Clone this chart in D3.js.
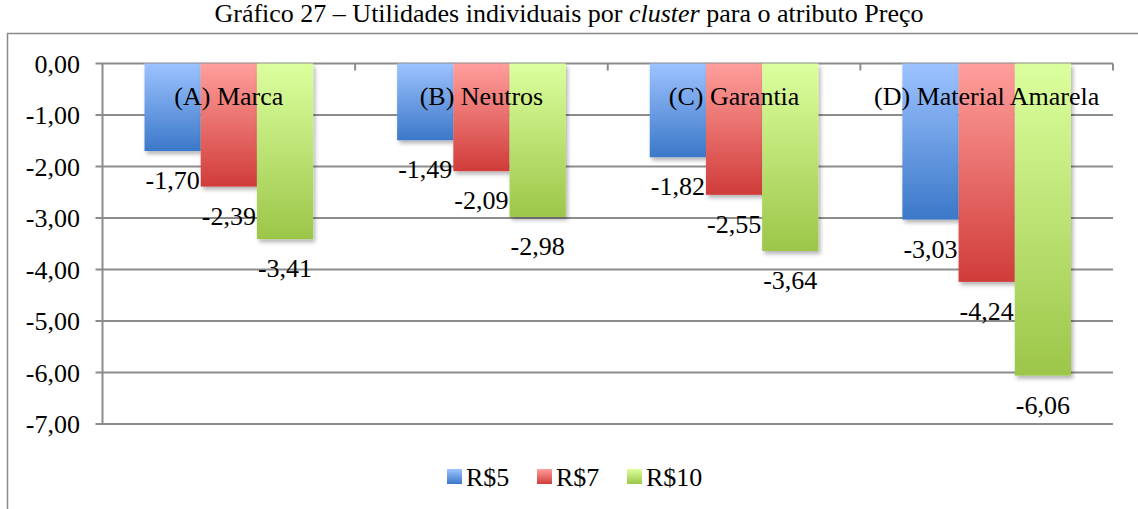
<!DOCTYPE html>
<html>
<head>
<meta charset="utf-8">
<script src="https://cdn.jsdelivr.net/npm/d3@7"></script>
<style>
  body { margin: 0; background: #fff; }
  text { font-family: "Liberation Serif", "Times New Roman", serif; fill: #000; }
</style>
</head>
<body>
<svg width="1138" height="509"></svg>
<script>
// Dados do gráfico
const clusters = ['(A) Marca', '(B) Neutros', '(C) Garantia', '(D) Material Amarela'];
const series = ['R$5', 'R$7', 'R$10'];
const valoresR5 = [-1.70, -1.49, -1.82, -3.03];
const valoresR7 = [-2.39, -2.09, -2.55, -4.24];
const valoresR10 = [-3.41, -2.98, -3.64, -6.06];
const yTicks = [0, -1, -2, -3, -4, -5, -6, -7];

const valores = [valoresR5, valoresR7, valoresR10];
const cores = [
  ['#9dc3ff', '#3b78c8'],
  ['#ff9f9c', '#d03c3a'],
  ['#dcff9e', '#9cc649']
];

const svg = d3.select('svg');
const plotLeft = 102.5, plotRight = 1113, plotTop = 63.5, plotBottom = 424;

const defs = svg.append('defs');
cores.forEach((c, i) => {
  const g = defs.append('linearGradient')
    .attr('id', 'grad' + i)
    .attr('x1', 0).attr('y1', 0).attr('x2', 0).attr('y2', 1);
  g.append('stop').attr('offset', '0%').attr('stop-color', c[0]);
  g.append('stop').attr('offset', '100%').attr('stop-color', c[1]);
});
const f = defs.append('filter').attr('id', 'sombra')
  .attr('x', '-10%').attr('y', '-10%').attr('width', '130%').attr('height', '130%');
f.append('feDropShadow').attr('dx', 2).attr('dy', 3).attr('stdDeviation', 2)
  .attr('flood-color', '#000').attr('flood-opacity', 0.3);

// Moldura
svg.append('path')
  .attr('d', 'M7.5,509 V33.5 H1138')
  .attr('fill', 'none').attr('stroke', '#8a8a8a').attr('stroke-width', 1.5);

// Título
const titulo = svg.append('text')
  .attr('x', 569).attr('y', 22)
  .attr('text-anchor', 'middle')
  .attr('font-size', 26);
titulo.append('tspan').text('Gráfico 27 – Utilidades individuais por ');
titulo.append('tspan').attr('font-style', 'italic').text('cluster');
titulo.append('tspan').text(' para o atributo Preço');

const y = d3.scaleLinear().domain([0, -7]).range([plotTop, plotBottom]);
const x0 = d3.scaleBand().domain(clusters).range([plotLeft, plotRight]);
const x1 = d3.scaleBand().domain(series).range([42, x0.bandwidth() - 42]);

// Grade
svg.append('g').selectAll('line').data(yTicks).join('line')
  .attr('x1', plotLeft - 7).attr('x2', plotRight)
  .attr('y1', d => y(d)).attr('y2', d => y(d))
  .attr('stroke', '#8c8c8c').attr('stroke-width', 2);

// Eixo vertical
svg.append('line')
  .attr('x1', plotLeft).attr('x2', plotLeft).attr('y1', plotTop).attr('y2', plotBottom)
  .attr('stroke', '#8c8c8c').attr('stroke-width', 2);

svg.append('g').selectAll('text').data(yTicks).join('text')
  .attr('x', 80).attr('y', d => y(d))
  .attr('dy', '0.35em')
  .attr('text-anchor', 'end')
  .attr('font-size', 26)
  .text(d => d3.format('.2f')(d).replace('.', ',').replace('−', '-'));

// Marcas do eixo de categorias
svg.append('g').selectAll('line').data(clusters).join('line')
  .attr('x1', d => x0(d) + x0.bandwidth()).attr('x2', d => x0(d) + x0.bandwidth())
  .attr('y1', plotTop).attr('y2', plotTop + 7)
  .attr('stroke', '#8c8c8c').attr('stroke-width', 2);

// Barras
const grupos = svg.append('g').selectAll('g').data(clusters).join('g')
  .attr('transform', d => `translate(${x0(d)},0)`);

grupos.selectAll('rect')
  .data((d, ci) => series.map((s, si) => ({ s, si, v: valores[si][ci] })))
  .join('rect')
  .attr('x', d => x1(d.s))
  .attr('width', x1.bandwidth())
  .attr('y', y(0))
  .attr('height', d => y(d.v) - y(0))
  .attr('fill', d => `url(#grad${d.si})`)
  .attr('filter', 'url(#sombra)');

// Rótulos de valores
grupos.selectAll('text.valor')
  .data((d, ci) => series.map((s, si) => ({ s, si, v: valores[si][ci] })))
  .join('text')
  .attr('class', 'valor')
  .attr('x', d => x1(d.s) + x1.bandwidth() / 2)
  .attr('y', d => y(d.v) + 29)
  .attr('dy', '0.35em')
  .attr('text-anchor', 'middle')
  .attr('font-size', 26)
  .text(d => d3.format('.2f')(d.v).replace('.', ',').replace('−', '-'));

// Rótulos de categorias
grupos.append('text')
  .attr('x', x0.bandwidth() / 2)
  .attr('y', plotTop + 32)
  .attr('dy', '0.35em')
  .attr('text-anchor', 'middle')
  .attr('font-size', 26)
  .text(d => d);

// Legenda
const legenda = svg.append('g').selectAll('g').data(series).join('g')
  .attr('transform', (d, i) => `translate(${447 + i * 90},469)`);
legenda.append('rect')
  .attr('width', 15).attr('height', 15)
  .attr('fill', (d, i) => `url(#grad${i})`);
legenda.append('text')
  .attr('x', 19).attr('y', 8)
  .attr('dy', '0.35em')
  .attr('font-size', 26)
  .text(d => d);
</script>
</body>
</html>
